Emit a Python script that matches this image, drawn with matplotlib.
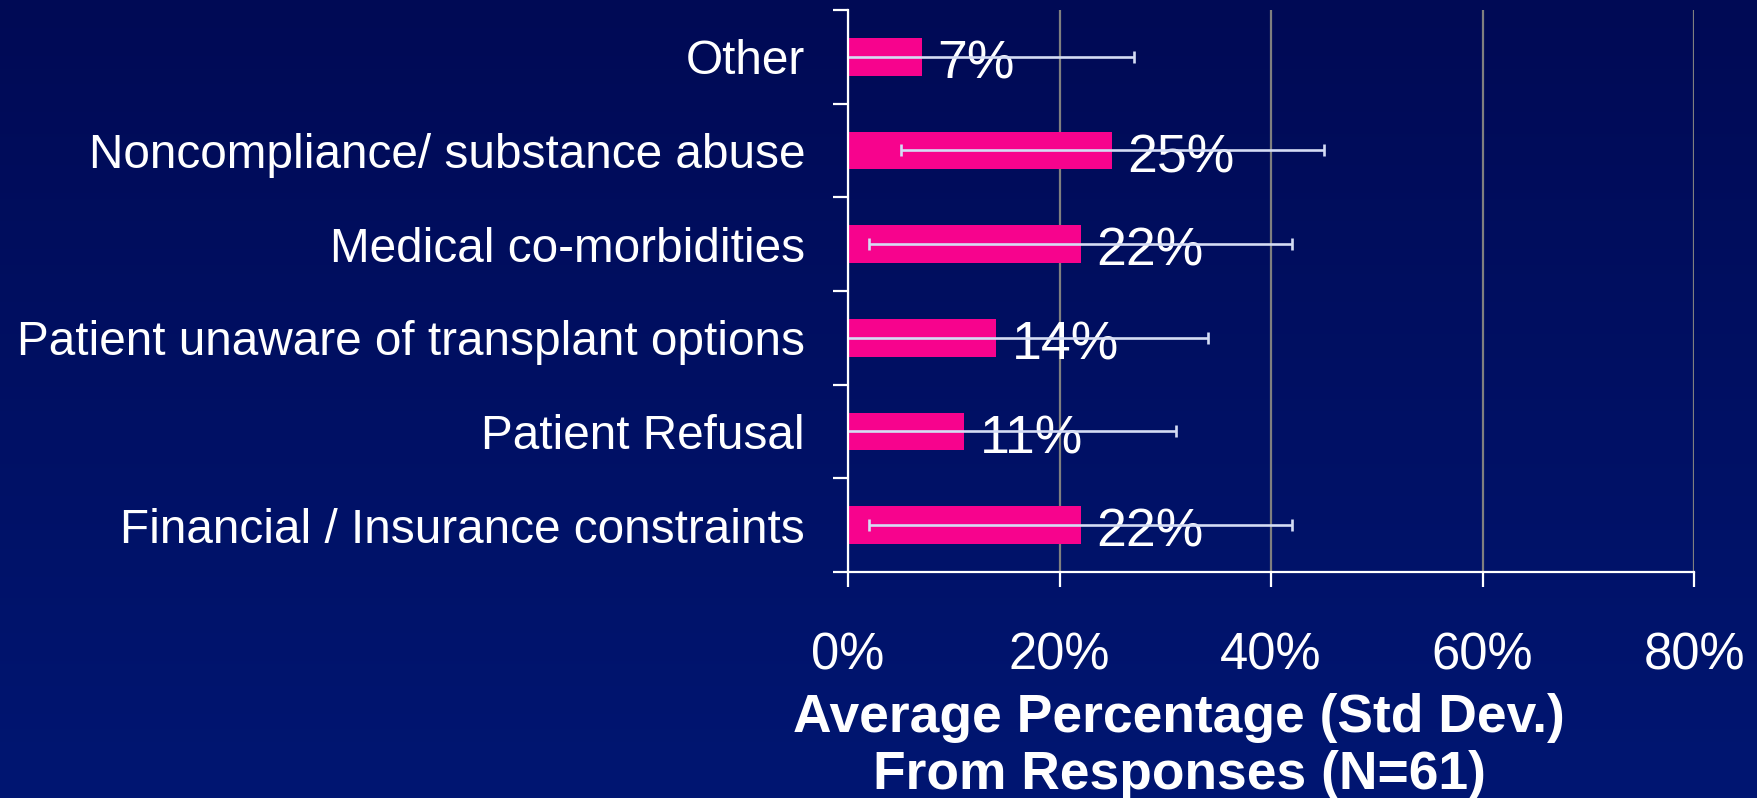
"""
Barreras para referir a trasplante: porcentaje medio (desv. est.) por categoría.
Barra horizontal con barras de error, estilo diapositiva sobre fondo azul.
"""
import numpy as np
import matplotlib
matplotlib.use("Agg")
import matplotlib.pyplot as plt
from matplotlib.ticker import FixedLocator

# categorías de arriba a abajo
categories = [
    "Other",
    "Noncompliance/ substance abuse",
    "Medical co-morbidities",
    "Patient unaware of transplant options",
    "Patient Refusal",
    "Financial / Insurance constraints",
]
means = [7, 25, 22, 14, 11, 22]
std_dev = [20, 20, 20, 20, 20, 20]
value_labels = ["7%", "25%", "22%", "14%", "11%", "22%"]
xticks = [0, 20, 40, 60, 80]
xtick_labels = ["0%", "20%", "40%", "60%", "80%"]
xlabel_lines = ["Average Percentage (Std Dev.)", "From Responses (N=61)"]

BAR = "#f7038d"
ERR = "#d4dcf4"
GRID = "#7f7f7f"
BG_TOP = "#000a55"
BG_BOT = "#001672"


def main():
    plt.rcParams["font.family"] = ["Liberation Sans", "DejaVu Sans"]
    fig = plt.figure(figsize=(17.58, 7.98), dpi=100)

    # fondo degradado vertical
    bg = fig.add_axes([0, 0, 1, 1], zorder=-10)
    top = np.array(matplotlib.colors.to_rgb(BG_TOP))
    bot = np.array(matplotlib.colors.to_rgb(BG_BOT))
    t = np.linspace(0, 1, 256)[:, None]
    grad = (top * (1 - t) + bot * t)[:, None, :]
    bg.imshow(grad, aspect="auto", extent=[0, 1, 0, 1])
    bg.axis("off")

    ax = fig.add_axes([0.4824, 0.2832, 0.4812, 0.7043])
    ax.set_facecolor("none")
    y = np.arange(len(categories))

    ax.barh(y, means, height=0.4, color=BAR, zorder=2)
    ax.errorbar(means, y, xerr=std_dev, fmt="none", ecolor=ERR,
                elinewidth=1.9, capsize=4.5, capthick=1.9, zorder=4)
    for yi, m, lab in zip(y, means, value_labels):
        ax.annotate(lab, (m, yi), xytext=(11, -1.5), textcoords="offset points",
                    ha="left", va="center_baseline", fontsize=38.5,
                    color="white", zorder=3)

    ax.set_xlim(0, 80)
    ax.set_ylim(len(categories) - 0.5, -0.5)

    ax.set_xticks(xticks)
    ax.set_xticklabels(xtick_labels, fontsize=36.5, color="white")
    ax.set_yticks(y)
    ax.set_yticklabels(categories, fontsize=34.4, color="white")
    ax.yaxis.set_minor_locator(FixedLocator(np.arange(-0.5, len(categories), 1.0)))

    ax.tick_params(axis="x", which="major", length=10.8, width=1.6,
                   color="white", pad=32)
    ax.tick_params(axis="y", which="major", length=0, pad=31)
    ax.tick_params(axis="y", which="minor", length=10.8, width=1.6,
                   color="white")

    ax.grid(axis="x", color=GRID, lw=1.6, zorder=0)
    ax.set_axisbelow(True)
    for s in ("top", "right"):
        ax.spines[s].set_visible(False)
    for s in ("left", "bottom"):
        ax.spines[s].set_color("white")
        ax.spines[s].set_linewidth(1.6)
        ax.spines[s].set_zorder(5)

    # título del eje en dos líneas, en negrita
    fig.text(1179 / 1758, 1 - 732 / 798, xlabel_lines[0], ha="center",
             va="baseline", fontsize=38.4, fontweight="bold", color="white")
    fig.text(1179 / 1758, 1 - 789 / 798, xlabel_lines[1], ha="center",
             va="baseline", fontsize=38.4, fontweight="bold", color="white")

    fig.savefig("out.png", dpi=100)


if __name__ == "__main__":
    main()
